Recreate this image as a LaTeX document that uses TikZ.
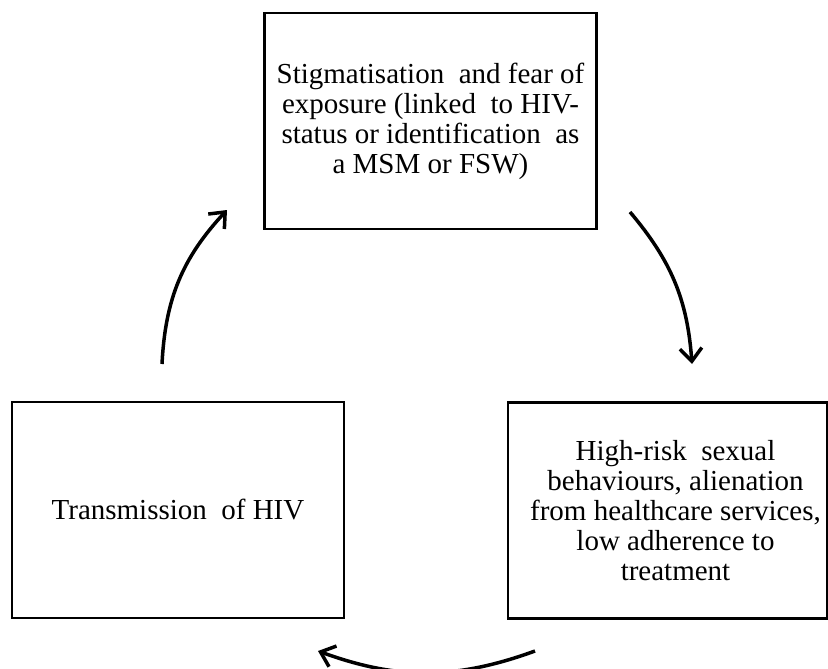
\documentclass[tikz,border=0pt]{standalone}
\usepackage{fontspec}
\setmainfont{Liberation Serif}
\usetikzlibrary{arrows.meta}
\begin{document}
\begin{tikzpicture}[x=1pt,y=1pt,
  box/.style={draw, line width=2.6pt, minimum width=332pt, minimum height=216pt,
    align=center, inner sep=0pt, font=\fontsize{29}{30}\selectfont},
  cyc/.style={line width=3.5pt, -{Straight Barb[length=13pt,width=22pt]}}]
\useasboundingbox (0,0) rectangle (828,-669);
\node[box] (T) at (430.5,-121) {Stigmatisation\ \ and fear of\\exposure (linked\ \ to HIV-\\status or identification\ \ as\\a MSM or FSW)};
\node[box] (L) at (178,-510) {Transmission\ \ of HIV};
\node[box, minimum width=319pt] (R) at (667.5,-510.5) {\hspace*{16pt}High-risk\ \ sexual\\\hspace*{16pt}behaviours, alienation\\\hspace*{16pt}from healthcare services,\\\hspace*{16pt}low adherence to\\\hspace*{16pt}treatment};
\coordinate (a1s) at (162,-364);
\coordinate (a1e) at (227,-210);
\coordinate (a2s) at (630,-212);
\coordinate (a2e) at (692,-364);
\coordinate (a3s) at (535,-651);
\coordinate (a3e) at (318,-651);
\draw[cyc] (a1s) to[bend left=20] (a1e);
\draw[cyc] (a2s) to[bend left=18] (a2e);
\draw[cyc] (a3s) to[bend left=20] (a3e);
\end{tikzpicture}
\end{document}
